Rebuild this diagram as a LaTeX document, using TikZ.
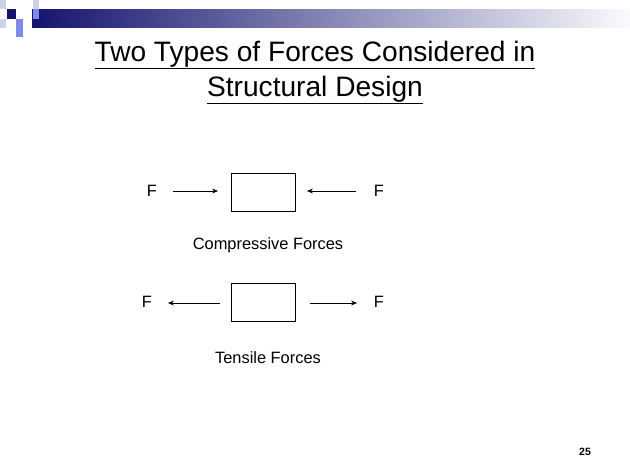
\documentclass[tikz,border=0pt]{standalone}
\usepackage{fontspec}
\setmainfont{Liberation Sans}
\usetikzlibrary{arrows.meta}
\definecolor{navy}{RGB}{20,20,110}
\definecolor{midblue}{RGB}{125,140,235}
\definecolor{paleblue}{RGB}{205,210,235}
\tikzstyle{block} = [rectangle, draw=black, minimum width=1.92cm, minimum height=1.14cm, inner sep=0pt]
\tikzstyle{force} = [font=\fontsize{14}{16}\selectfont]
\tikzstyle{caption} = [font=\fontsize{14}{16}\selectfont]
\tikzstyle{arrow} = [thin,-{Stealth[length=5pt,width=4pt]}]
\begin{document}
\begin{tikzpicture}[x=0.03cm,y=-0.03cm]
\useasboundingbox (0,0) rectangle (630,473);

% Header bar
\shade[left color=navy, right color=white!90!paleblue] (32,9) rectangle (630,27);
\fill[paleblue] (0,0) rectangle (6,9);
\fill[paleblue] (33,0) rectangle (39,9);
\fill[navy] (7,9) rectangle (16,19);
\fill[midblue] (33,9) rectangle (39,19);
\fill[paleblue] (0,19) rectangle (6,28);
\fill[midblue] (16,19) rectangle (23,28);
\fill[midblue] (16,28) rectangle (23,37);

% Title
\node (title1) at (315,55) {\fontsize{24}{28}\selectfont\underline{Two Types of Forces Considered in}};
\node (title2) at (315,90) {\fontsize{24}{28}\selectfont\underline{Structural Design}};

% Nodes
\node (boxc) [block] at (263,192) {};
\node (boxt) [block] at (263,302) {};
\node (fcl) [force] at (152,191) {F};
\node (fcr) [force] at (379,191) {F};
\node (ftl) [force] at (147,302) {F};
\node (ftr) [force] at (379,302) {F};
\coordinate (cl0) at (173,191);
\coordinate (cl1) at (218,191);
\coordinate (cr0) at (356,191);
\coordinate (cr1) at (307,191);
\coordinate (tl0) at (220,303);
\coordinate (tl1) at (168,303);
\coordinate (tr0) at (310,303);
\coordinate (tr1) at (357,303);
\node (comp) [caption] at (268,245) {Compressive Forces};
\node (tens) [caption] at (268,358) {Tensile Forces};
\node (page) at (585,452) {\fontsize{9}{11}\selectfont\bfseries 25};

% Arrows
\draw [arrow] (cl0) -- (cl1);
\draw [arrow] (cr0) -- (cr1);
\draw [arrow] (tl0) -- (tl1);
\draw [arrow] (tr0) -- (tr1);

\end{tikzpicture}
\end{document}
